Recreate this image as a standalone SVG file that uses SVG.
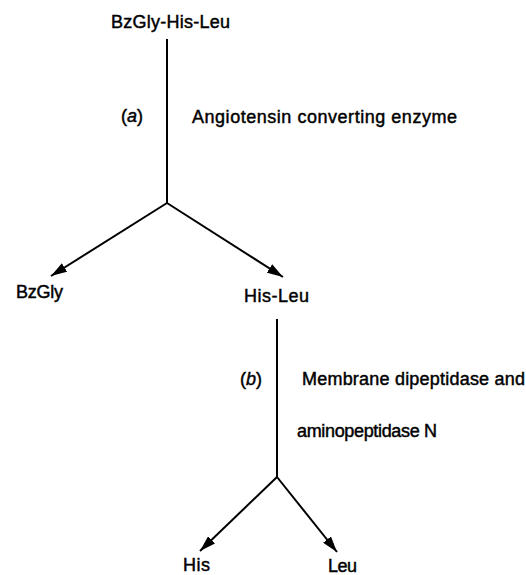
<svg xmlns="http://www.w3.org/2000/svg" width="526" height="575" viewBox="0 0 526 575">
<style>
text{font-family:"Liberation Sans",Arial,sans-serif;font-size:18px;fill:#000;stroke:#000;stroke-width:0.45}
.it{font-style:italic}
.ln{stroke:#000;stroke-width:2;fill:none}
</style>
<defs>
<marker id="ah" viewBox="0 0 16 10" refX="16" refY="5" markerWidth="16" markerHeight="10" markerUnits="userSpaceOnUse" orient="auto">
<path d="M0,0 L16,5 L0,10 Z" fill="#000"/>
</marker>
</defs>
<rect width="526" height="575" fill="#fff"/>
<g id="connectors">
<path class="ln" d="M167,39 L167,203"/>
<path class="ln" d="M167,203 L51,276" marker-end="url(#ah)"/>
<path class="ln" d="M167,203 L283,277" marker-end="url(#ah)"/>
<path class="ln" d="M277,319 L277,477"/>
<path class="ln" d="M277,477 L200,551" marker-end="url(#ah)"/>
<path class="ln" d="M277,477 L337,552" marker-end="url(#ah)"/>
</g>
<g id="n-bzglyhisleu"><text x="111" y="28" textLength="119">BzGly-His-Leu</text></g>
<g id="label-a"><text x="121" y="122">(<tspan class="it">a</tspan>)</text></g>
<g id="label-ace"><text x="192" y="123" textLength="265">Angiotensin converting enzyme</text></g>
<g id="n-bzgly"><text x="16" y="298" textLength="47">BzGly</text></g>
<g id="n-hisleu"><text x="244" y="302" textLength="65">His-Leu</text></g>
<g id="label-b"><text x="240" y="385">(<tspan class="it">b</tspan>)</text></g>
<g id="label-mdp"><text x="302" y="385" textLength="223">Membrane dipeptidase and</text><text x="297" y="437" textLength="140">aminopeptidase N</text></g>
<g id="n-his"><text x="183" y="571" textLength="27">His</text></g>
<g id="n-leu"><text x="328" y="572" textLength="29">Leu</text></g>
</svg>
